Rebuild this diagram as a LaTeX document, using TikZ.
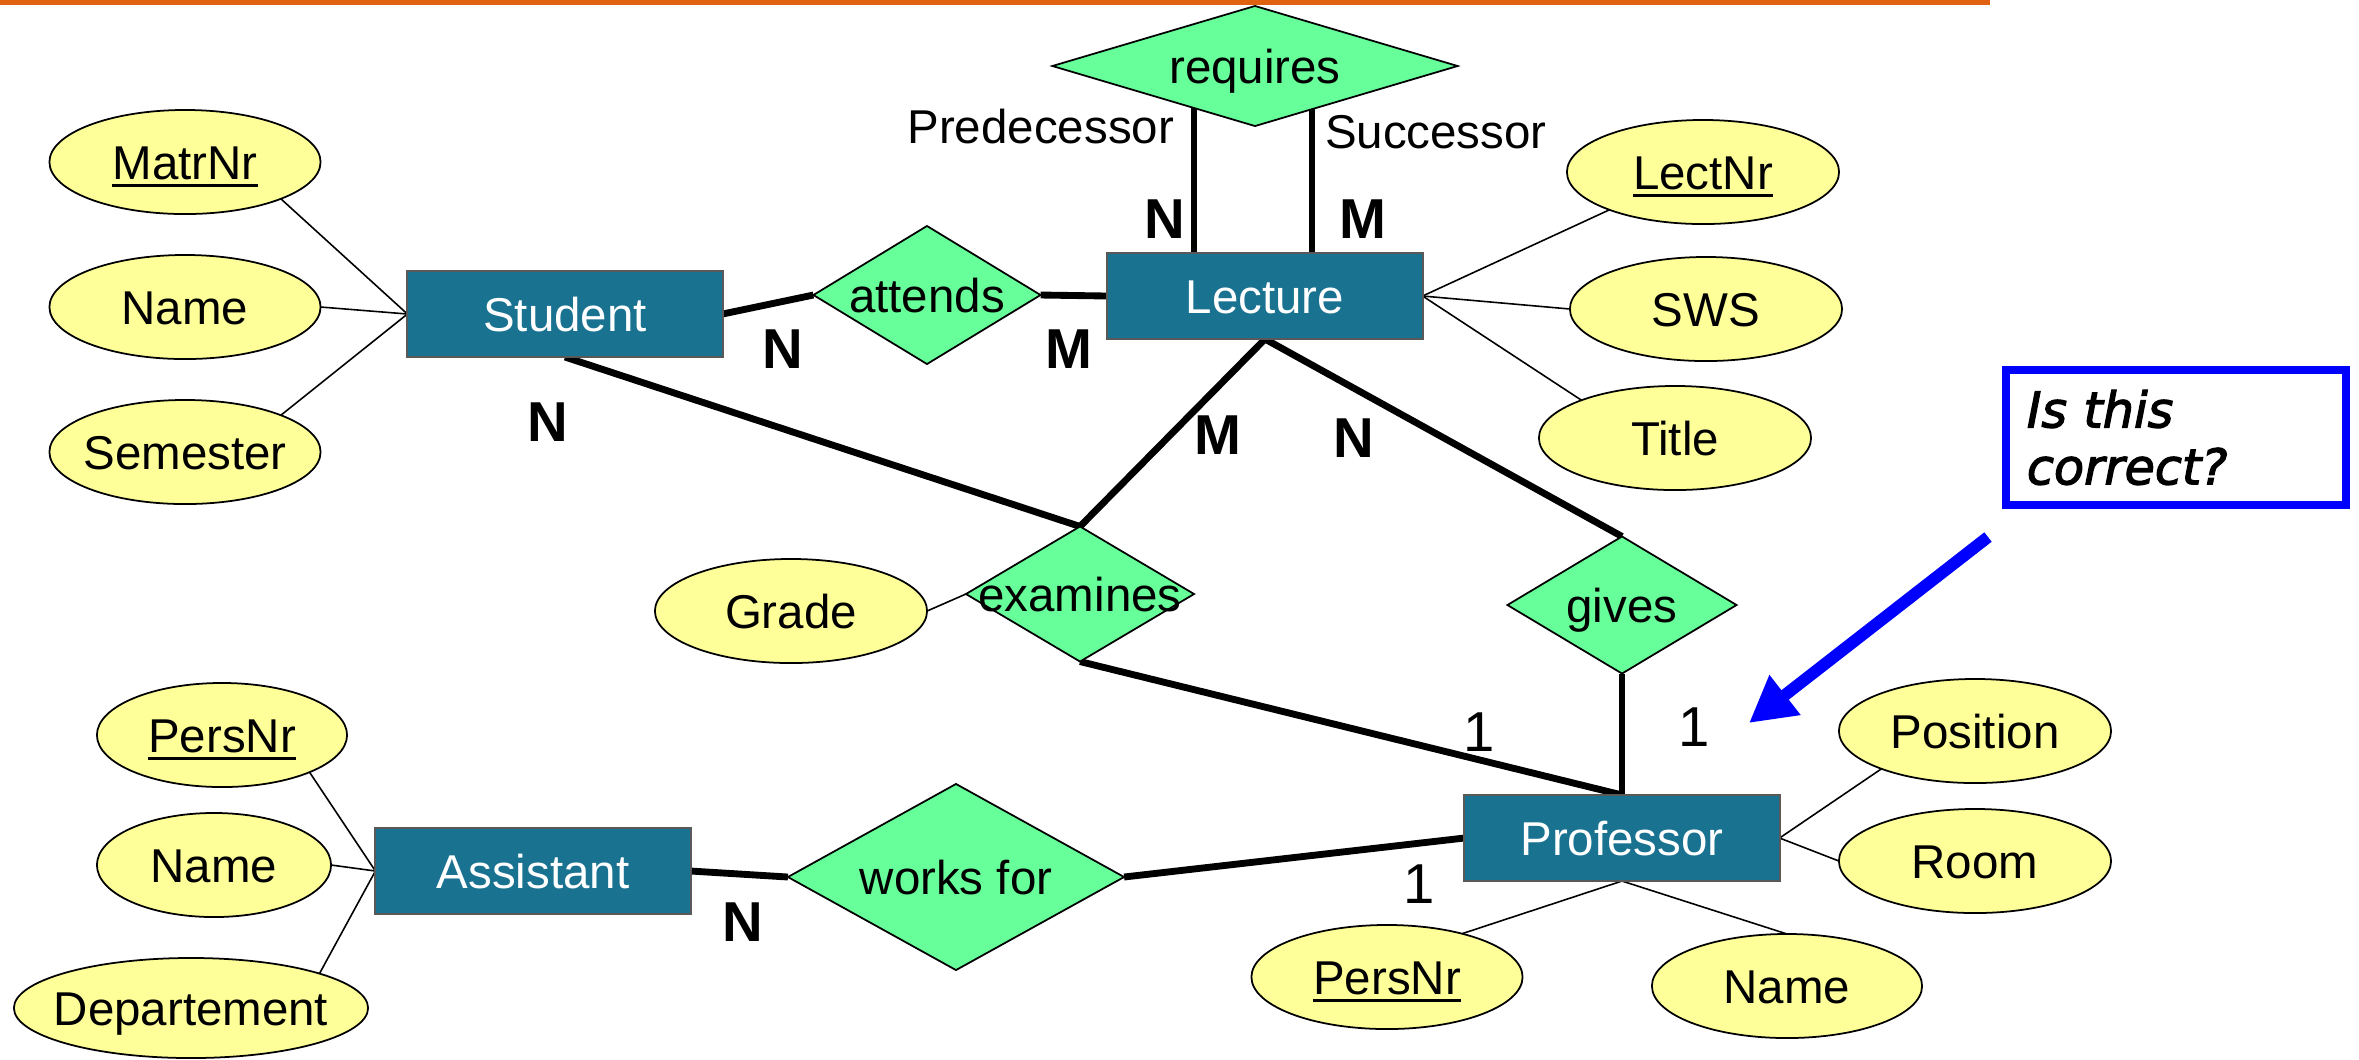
\documentclass[tikz,border=0pt]{standalone}
\usepackage{fontspec}
\setmainfont{Liberation Sans}
\newfontfamily\notefont[ItalicFeatures={FakeBold=2.5}]{DejaVu Sans}
\usetikzlibrary{shapes.geometric,arrows.meta,calc}
\definecolor{entfill}{RGB}{26,114,145}
\definecolor{relfill}{RGB}{102,255,153}
\definecolor{attfill}{RGB}{255,255,153}
\definecolor{barorange}{RGB}{224,98,16}
\newcommand\zbox[1]{\makebox[0pt]{#1}}
\newcommand\keyul[1]{\setbox0\hbox{#1}\rlap{\rule[-0.17em]{\wd0}{0.058em}}\box0}
\pgfdeclarelayer{background}
\pgfsetlayers{background,main}
\begin{document}
\begin{tikzpicture}[x=0.01cm, y=-0.01cm,
  every node/.style={inner sep=0pt, outer sep=0pt},
  txt/.style={font=\fontsize{13.5}{16}\selectfont, text height=9.67pt, text depth=0pt},
  ent/.style={txt, rectangle, draw=black!65, line width=0.6pt, fill=entfill, text=white, minimum width=3.15cm, minimum height=0.86cm},
  rel/.style={txt, diamond, draw=black, line width=0.5pt, fill=relfill},
  att/.style={txt, ellipse, draw=black, line width=0.5pt, fill=attfill, minimum width=2.72cm, minimum height=1.04cm},
  conn/.style={line width=1.95pt},
  attl/.style={line width=0.45pt},
  card/.style={font=\fontsize{16}{18}\selectfont\bfseries, text height=11.46pt, text depth=0pt},
  one/.style={font=\fontsize{16}{18}\selectfont, text height=11.46pt, text depth=0pt}
]
\useasboundingbox (0,0) rectangle (2359,1059);
\fill[barorange] (0,0) rectangle (1990,5);

% entities
\node[ent] (stu) at (565,314) {Student};
\node[ent] (lec) at (1265,296) {Lecture};
\node[ent] (prof) at (1622,838) {Professor};
\node[ent] (asst) at (533,871) {Assistant};

% relationships
\node[rel, minimum width=4.05cm, minimum height=1.20cm] (req) at (1255,66) {\zbox{requires}};
\node[rel, minimum width=2.27cm, minimum height=1.38cm] (att) at (927,295) {\zbox{attends}};
\node[rel, minimum width=2.28cm, minimum height=1.35cm] (exam) at (1080,594) {\zbox{examines}};
\node[rel, minimum width=2.29cm, minimum height=1.37cm] (gives) at (1622,605) {\zbox{gives}};
\node[rel, minimum width=3.36cm, minimum height=1.86cm] (works) at (956,877) {\zbox{works for}};

% attributes
\node[att, minimum width=2.71cm] (matr) at (185,162) {\zbox{\keyul{MatrNr}}};
\node[att, minimum width=2.71cm] (sname) at (185,307) {\zbox{Name}};
\node[att, minimum width=2.71cm] (sem) at (185,452) {\zbox{Semester}};
\node[att] (lnr) at (1703,172) {\zbox{\keyul{LectNr}}};
\node[att] (sws) at (1706,309) {\zbox{SWS}};
\node[att] (title) at (1675,438) {\zbox{Title}};
\node[att] (grade) at (791,611) {\zbox{Grade}};
\node[att] (pos) at (1975,731) {\zbox{Position}};
\node[att] (room) at (1975,861) {\zbox{Room}};
\node[att, minimum width=2.71cm] (ppers) at (1387,977) {\zbox{\keyul{PersNr}}};
\node[att, minimum width=2.70cm] (pname) at (1787,986) {\zbox{Name}};
\node[att, minimum width=2.50cm] (apers) at (222,735) {\zbox{\keyul{PersNr}}};
\node[att, minimum width=2.34cm] (aname) at (214,865) {\zbox{Name}};
\node[att, minimum width=3.54cm, minimum height=1.00cm] (dept) at (191,1008) {\zbox{Departement}};

\coordinate (reqL) at ($(req.center)+(-61,0)$);
\coordinate (reqR) at ($(req.center)+(57,0)$);

\begin{pgfonlayer}{background}
  \draw[conn] (stu.east) -- (att.west);
  \draw[conn] (att.east) -- (lec.west);
  \draw[conn] (stu.south) -- (exam.north);
  \draw[conn] (lec.south) -- (exam.north);
  \draw[conn] (lec.south) -- (gives.north);
  \draw[conn] (exam.south) -- (prof.north);
  \draw[conn] (gives.south) -- (prof.north);
  \draw[conn] (asst.east) -- (works.west);
  \draw[conn] (works.east) -- (prof.west);
  \draw[conn] (reqL) -- (reqL |- lec.north);
  \draw[conn] (reqR) -- (reqR |- lec.north);
  \draw[attl] (matr.-21) -- (stu.west);
  \draw[attl] (sname.0) -- (stu.west);
  \draw[attl] (sem.21) -- (stu.west);
  \draw[attl] (lnr.202) -- (lec.east);
  \draw[attl] (sws.180) -- (lec.east);
  \draw[attl] (title.158) -- (lec.east);
  \draw[attl] (grade.0) -- (exam.west);
  \draw[attl] (pos.202) -- (prof.east);
  \draw[attl] (room.180) -- (prof.east);
  \draw[attl] (ppers.30) -- (prof.south);
  \draw[attl] (pname.90) -- (prof.south);
  \draw[attl] (apers.-23) -- (asst.west);
  \draw[attl] (aname.0) -- (asst.west);
  \draw[attl] (dept.15.5) -- (asst.west);
\end{pgfonlayer}

% cardinalities
\node[card] (cN1) at (1165,218) {N};
\node[card] (cM1) at (1363,218) {M};
\node[card] (cN2) at (783,348) {N};
\node[card] (cM2) at (1069,348) {M};
\node[card] (cN3) at (548,421) {N};
\node[card] (cM3) at (1218,434) {M};
\node[card] (cN4) at (1354,437) {N};
\node[one] (c1a) at (1479,731) {1};
\node[one] (c1b) at (1694,726) {1};
\node[one] (c1c) at (1419,883) {1};
\node[card] (cN5) at (743,921) {N};

% roles
\node[txt, anchor=east] (pred) at (1174,126) {Predecessor};
\node[txt, anchor=west] (succ) at (1325,131) {Successor};

% note
\node[draw=blue, line width=2.28pt, text width=2.98cm, inner xsep=0.21cm, align=left,
      minimum height=1.35cm, font=\notefont\itshape\fontsize{14}{16.2}\selectfont] (note) at (2176,437.5) {Is this\\correct?};
\coordinate (arrS) at (1988,537);
\coordinate (arrE) at (1749,723);
\draw[blue, line width=3.4pt, -{Triangle[length=13pt,width=13.5pt]}] (arrS) -- (arrE);
\end{tikzpicture}
\end{document}
